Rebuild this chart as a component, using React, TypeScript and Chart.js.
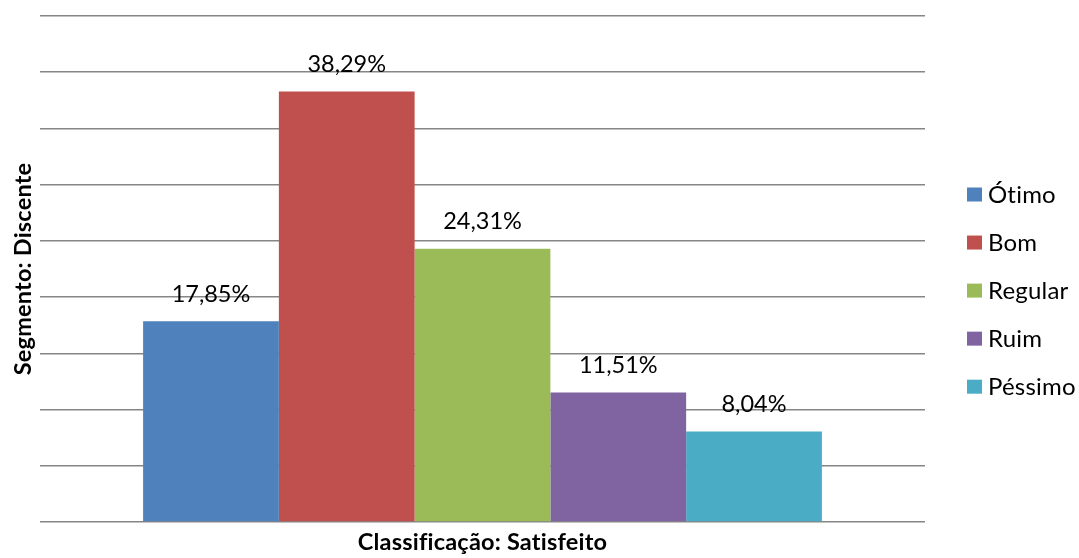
import React, { useEffect, useRef } from "react";
import { Chart, registerables } from "chart.js";

Chart.register(...registerables);

const categories = ["Classificação: Satisfeito"];
const seriesNames = ["Ótimo", "Bom", "Regular", "Ruim", "Péssimo"];
const seriesValues = [17.85, 38.29, 24.31, 11.51, 8.04];
const seriesColors = ["#4F81BD", "#C0504D", "#9BBB59", "#8064A2", "#4BACC6"];
const yAxisTitle = "Segmento: Discente";
const yMin = 0;
const yMax = 45;
const yStep = 5;

const FONT = "Lato, 'Open Sans', sans-serif";

const fmt = (v: number) => v.toFixed(2).replace(".", ",") + "%";

const noLig = (ctx: any) => {
  try {
    ctx.letterSpacing = "0.2px";
  } catch (e) {}
};

const overlayPlugin = {
  id: "overlay",
  afterDatasetsDraw(chart: any) {
    const ctx = chart.ctx;
    ctx.save();
    ctx.fillStyle = "#000";
    ctx.font = `23.5px ${FONT}`;
    ctx.textAlign = "center";
    ctx.textBaseline = "alphabetic";
    chart.data.datasets.forEach((ds: any, i: number) => {
      const meta = chart.getDatasetMeta(i);
      meta.data.forEach((el: any, j: number) => {
        ctx.fillText(fmt(ds.data[j]), el.x, el.y - 19.5);
      });
    });
    ctx.restore();
  },
  afterDraw(chart: any) {
    const ctx = chart.ctx;
    const area = chart.chartArea;
    ctx.save();
    noLig(ctx);
    ctx.fillStyle = "#000";
    // y axis title
    ctx.font = `bold 23.5px ${FONT}`;
    ctx.textAlign = "center";
    ctx.textBaseline = "middle";
    ctx.save();
    ctx.translate(23, (area.top + area.bottom) / 2);
    ctx.rotate(-Math.PI / 2);
    ctx.fillText(yAxisTitle, 0, 0);
    ctx.restore();
    // x axis title
    ctx.textBaseline = "alphabetic";
    ctx.fillText(categories[0], (area.left + area.right) / 2, 550);
    // legend
    ctx.font = `24px ${FONT}`;
    ctx.textAlign = "left";
    ctx.textBaseline = "middle";
    chart.data.datasets.forEach((ds: any, i: number) => {
      const cy = 194.5 + i * 48.05;
      ctx.fillStyle = ds.backgroundColor;
      ctx.fillRect(967, cy - 7, 15, 14);
      ctx.fillStyle = "#000";
      ctx.fillText(ds.label, 988, cy + 1);
    });
    ctx.restore();
  },
};

export default function App() {
  const ref = useRef<HTMLCanvasElement | null>(null);
  useEffect(() => {
    if (!ref.current) return;
    Chart.defaults.font.family = FONT;
    const chart = new Chart(ref.current, {
      type: "bar",
      data: {
        labels: categories,
        datasets: seriesNames.map((name, i) => ({
          label: name,
          data: [seriesValues[i]],
          backgroundColor: seriesColors[i],
          borderWidth: 0,
          categoryPercentage: 0.767,
          barPercentage: 1.0,
        })),
      },
      options: {
        animation: false,
        responsive: false,
        maintainAspectRatio: false,
        layout: { padding: { left: 40, right: 154, top: 16, bottom: 36 } },
        plugins: {
          legend: { display: false },
          tooltip: { enabled: false },
        },
        scales: {
          x: {
            display: false,
            grid: { display: false },
          },
          y: {
            min: yMin,
            max: yMax,
            ticks: { display: false, stepSize: yStep },
            grid: { color: "#868686", lineWidth: 1.5, drawTicks: false },
            border: { display: false },
          },
        },
      },
      plugins: [overlayPlugin],
    });
    return () => chart.destroy();
  }, []);
  return (
    <div style={{ position: "absolute", left: 0, top: 0, width: 1079, height: 558, background: "#fff" }}>
      <canvas ref={ref} width={1079} height={558} />
    </div>
  );
}
